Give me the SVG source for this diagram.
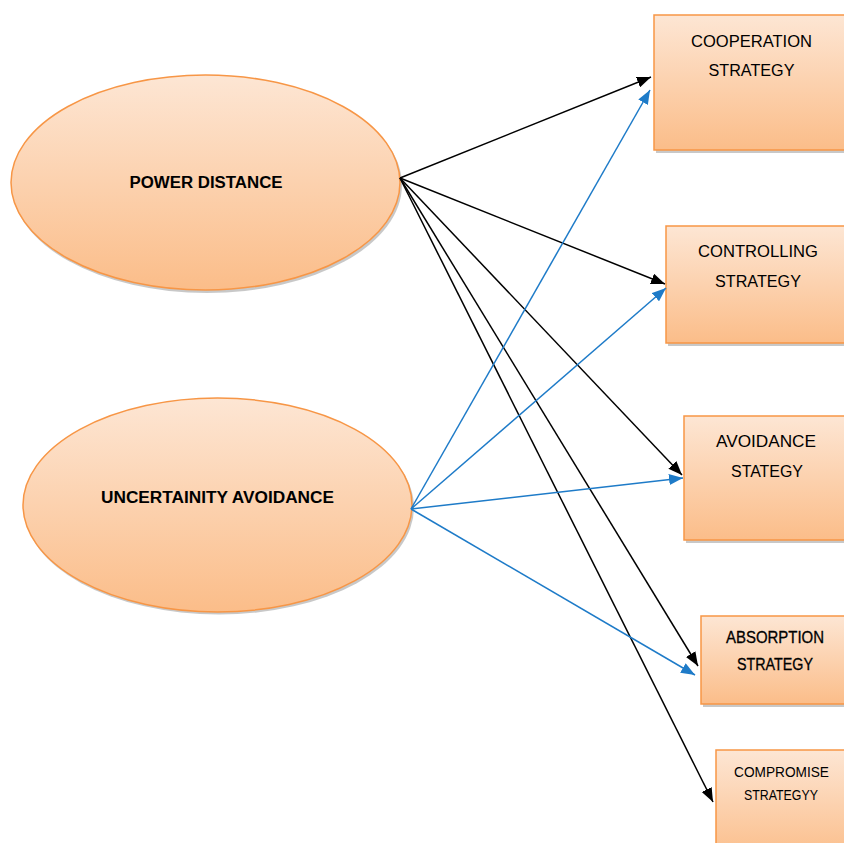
<svg xmlns="http://www.w3.org/2000/svg" width="844" height="843" viewBox="0 0 844 843">
<style>
.node{fill:url(#g);stroke:#f79646;stroke-width:1.5}
.shadow{fill:#9a9a9a;opacity:0.55}
.t{font-family:"Liberation Sans",Arial,sans-serif;fill:#000;text-anchor:middle}
.b{font-weight:bold;font-size:16px}
.m{font-size:16px}
.k{stroke:#000;stroke-width:1.5;fill:none}
.u{stroke:#1e7bc8;stroke-width:1.5;fill:none}
</style>
<defs>
<linearGradient id="g" x1="0" y1="0" x2="0" y2="1">
<stop offset="0" stop-color="#fde6d4"/>
<stop offset="1" stop-color="#fbbd89"/>
</linearGradient>
<marker id="ak" markerUnits="userSpaceOnUse" markerWidth="14" markerHeight="11" refX="14" refY="5.5" orient="auto">
<path d="M0,0 L14,5.5 L0,11 z" fill="#000"/>
</marker>
<marker id="au" markerUnits="userSpaceOnUse" markerWidth="14" markerHeight="11" refX="14" refY="5.5" orient="auto">
<path d="M0,0 L14,5.5 L0,11 z" fill="#1e7bc8"/>
</marker>
</defs>
<rect width="844" height="843" fill="#fff"/>

<g id="power-distance">
<ellipse class="shadow" cx="207" cy="185" rx="195" ry="108"/>
<ellipse class="node" cx="205.5" cy="182.5" rx="194.5" ry="107.5"/>
<text class="t b" x="206" y="188" textLength="153" lengthAdjust="spacingAndGlyphs">POWER DISTANCE</text>
</g>

<g id="uncertainity-avoidance">
<ellipse class="shadow" cx="219" cy="507.5" rx="195" ry="107"/>
<ellipse class="node" cx="217.5" cy="505" rx="194.5" ry="107"/>
<text class="t b" x="217.5" y="503" textLength="233" lengthAdjust="spacingAndGlyphs">UNCERTAINITY AVOIDANCE</text>
</g>

<g id="cooperation">
<rect class="shadow" x="656" y="18" width="200" height="135"/>
<rect class="node" x="654" y="15" width="200" height="135"/>
<text class="t m" x="751.5" y="47" textLength="121" lengthAdjust="spacingAndGlyphs">COOPERATION</text>
<text class="t m" x="751.5" y="76" textLength="86" lengthAdjust="spacingAndGlyphs">STRATEGY</text>
</g>

<g id="controlling">
<rect class="shadow" x="668" y="229" width="190" height="117"/>
<rect class="node" x="666" y="226" width="190" height="117"/>
<text class="t m" x="758" y="257" textLength="120" lengthAdjust="spacingAndGlyphs">CONTROLLING</text>
<text class="t m" x="758" y="287" textLength="86" lengthAdjust="spacingAndGlyphs">STRATEGY</text>
</g>

<g id="avoidance">
<rect class="shadow" x="686" y="419" width="170" height="124"/>
<rect class="node" x="684" y="416" width="170" height="124"/>
<text class="t m" x="766" y="447" textLength="100" lengthAdjust="spacingAndGlyphs">AVOIDANCE</text>
<text class="t m" x="767" y="477" textLength="72" lengthAdjust="spacingAndGlyphs">STATEGY</text>
</g>

<g id="absorption">
<rect class="shadow" x="703" y="619" width="160" height="88"/>
<rect class="node" x="701" y="616" width="160" height="88"/>
<text class="t" x="775" y="643" font-size="16" stroke="#000" stroke-width="0.3" textLength="98" lengthAdjust="spacingAndGlyphs">ABSORPTION</text>
<text class="t" x="775" y="670" font-size="16" stroke="#000" stroke-width="0.3" textLength="76" lengthAdjust="spacingAndGlyphs">STRATEGY</text>
</g>

<g id="compromise">
<rect class="shadow" x="718" y="753" width="150" height="110"/>
<rect class="node" x="716" y="750" width="150" height="110"/>
<text class="t" x="781.5" y="777" font-size="15" textLength="95" lengthAdjust="spacingAndGlyphs">COMPROMISE</text>
<text class="t" x="781" y="800" font-size="15" textLength="74" lengthAdjust="spacingAndGlyphs">STRATEGYY</text>
</g>

<g id="connectors">
<line class="k" x1="400" y1="178" x2="651" y2="77" marker-end="url(#ak)"/>
<line class="k" x1="400" y1="178" x2="665" y2="284" marker-end="url(#ak)"/>
<line class="k" x1="400" y1="178" x2="682" y2="475" marker-end="url(#ak)"/>
<line class="k" x1="400" y1="178" x2="698" y2="666" marker-end="url(#ak)"/>
<line class="k" x1="400" y1="178" x2="713" y2="802" marker-end="url(#ak)"/>
<line class="u" x1="411" y1="509" x2="650" y2="90" marker-end="url(#au)"/>
<line class="u" x1="411" y1="509" x2="666" y2="288" marker-end="url(#au)"/>
<line class="u" x1="411" y1="509" x2="683" y2="478" marker-end="url(#au)"/>
<line class="u" x1="411" y1="509" x2="695" y2="675" marker-end="url(#au)"/>
</g>
</svg>
